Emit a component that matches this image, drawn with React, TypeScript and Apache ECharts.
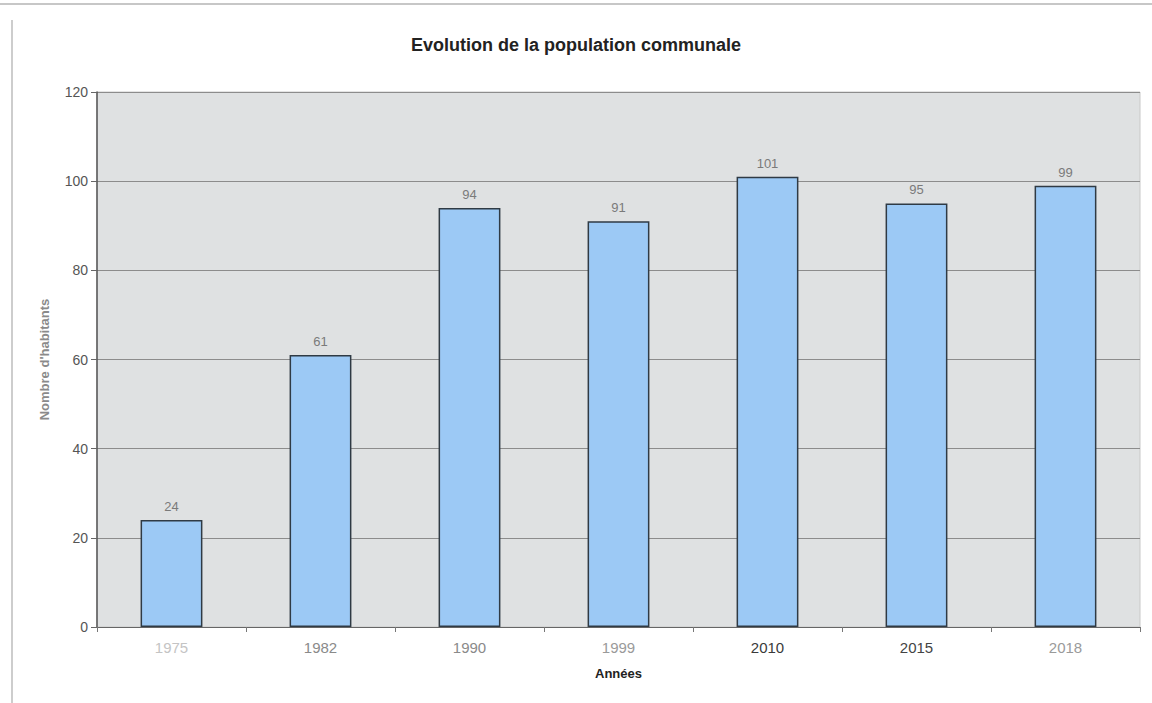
import React, { useEffect, useRef } from "react";
import * as echarts from "echarts";

const categories = ["1975", "1982", "1990", "1999", "2010", "2015", "2018"];
const population = [24, 61, 94, 91, 101, 95, 99];
const categoryColors = ["#c4c4c4", "#8a8a8a", "#8a8a8a", "#9a9a9a", "#3a3a3a", "#444444", "#9a9a9a"];

export default function App() {
  const ref = useRef<HTMLDivElement>(null);
  useEffect(() => {
    if (!ref.current) return;
    const chart = echarts.init(ref.current, null, { renderer: "svg" });
    chart.setOption({
      animation: false,
      backgroundColor: "#ffffff",
      textStyle: { fontFamily: "Liberation Sans, Arial, sans-serif" },
      title: {
        text: "Evolution de la population communale",
        left: "center",
        top: 31,
        textStyle: { fontSize: 18, fontWeight: "bold", color: "#222", fontFamily: "Liberation Sans, Arial, sans-serif" },
      },
      grid: {
        left: 97,
        right: 12,
        top: 92,
        bottom: 76,
        show: true,
        backgroundColor: "#dfe1e2",
        borderColor: "#c8c8c8",
        borderWidth: 1,
      },
      xAxis: {
        type: "category",
        data: categories.map((c, i) => ({ value: c, textStyle: { color: categoryColors[i] } })),
        name: "Années",
        nameLocation: "middle",
        nameGap: 40,
        nameTextStyle: { fontSize: 13, fontWeight: "bold", color: "#222" },
        axisLine: { lineStyle: { color: "#666", width: 1 } },
        axisTick: { show: true, alignWithLabel: false, lineStyle: { color: "#777" }, length: 5 },
        axisLabel: { fontSize: 15, margin: 13 },
      },
      yAxis: {
        type: "value",
        min: 0,
        max: 120,
        interval: 20,
        name: "Nombre d'habitants",
        nameLocation: "middle",
        nameGap: 46,
        nameTextStyle: { fontSize: 13, fontWeight: "bold", color: "#8a8a8a" },
        axisLine: { show: true, lineStyle: { color: "#555", width: 1.5 } },
        axisTick: { show: true, lineStyle: { color: "#666" }, length: 6 },
        axisLabel: { fontSize: 14, color: "#555", margin: 9 },
        splitLine: { show: true, lineStyle: { color: "#8c8c8c", width: 1 } },
      },
      series: [
        {
          type: "bar",
          data: population,
          barWidth: "41.5%",
          itemStyle: { color: "#9cc9f5", borderColor: "#2f3a44", borderWidth: 1.5 },
          label: { show: true, position: "top", fontSize: 13, color: "#7a7a7a", distance: 7 },
        },
      ],
      graphic: [
        { type: "line", shape: { x1: 0, y1: 4, x2: 1152, y2: 4 }, style: { stroke: "#b5b5b5", lineWidth: 1.5 } },
        { type: "line", shape: { x1: 12, y1: 20, x2: 12, y2: 703 }, style: { stroke: "#bdbdbd", lineWidth: 1.5 } },
      ],
    });
    return () => chart.dispose();
  }, []);
  return <div ref={ref} style={{ position: "fixed", left: 0, top: 0, width: 1152, height: 703 }} />;
}
